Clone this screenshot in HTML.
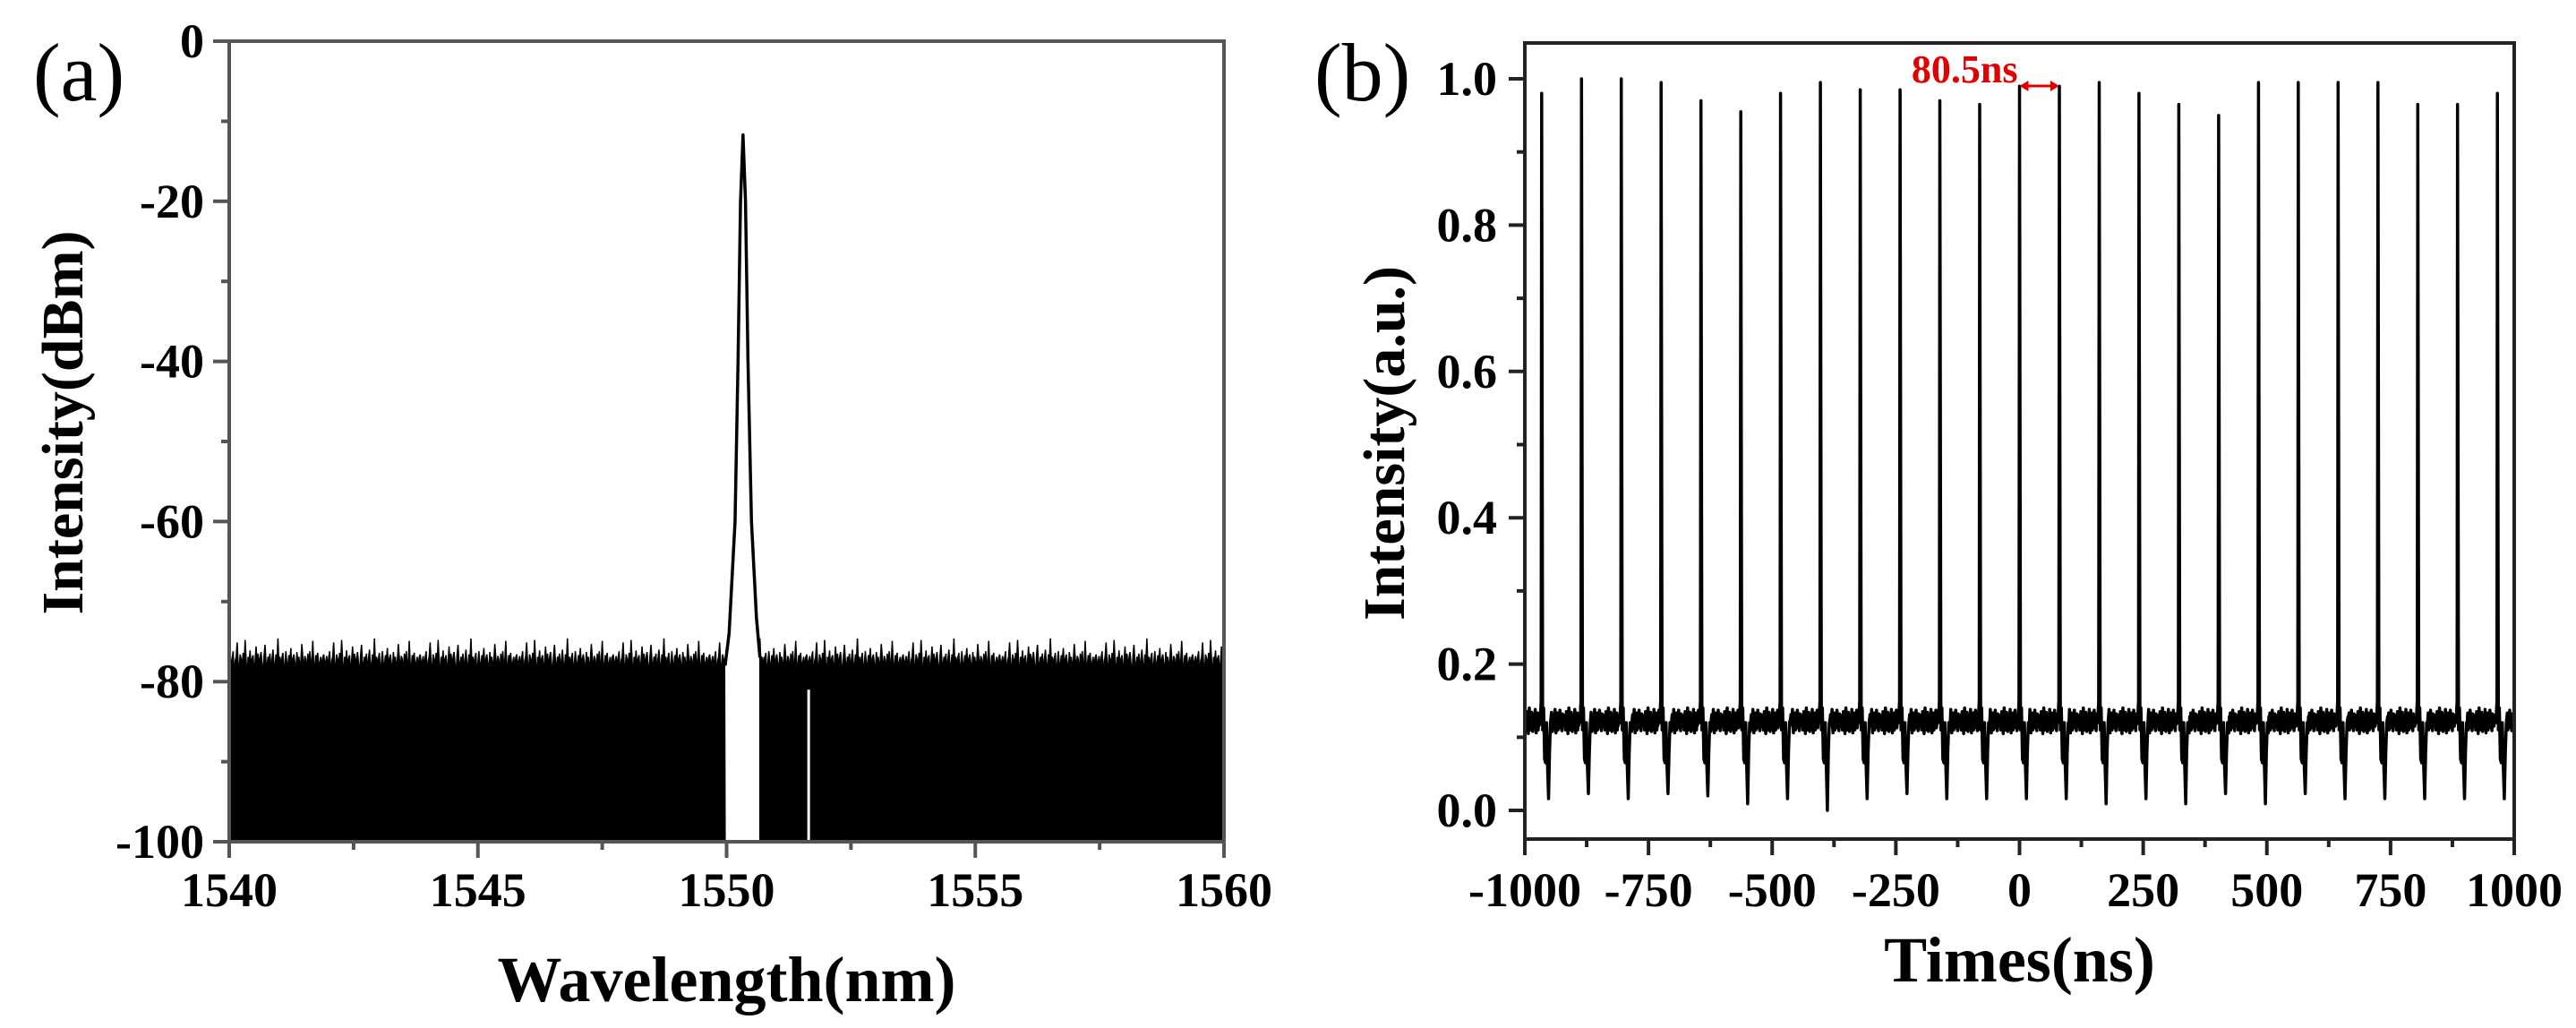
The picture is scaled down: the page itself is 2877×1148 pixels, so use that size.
<!DOCTYPE html>
<html><head><meta charset="utf-8"><style>
html,body{margin:0;padding:0;background:#fff;}
svg{display:block;font-family:"Liberation Serif",serif;}
</style></head><body>
<svg id="fig" width="2877" height="1148" viewBox="0 0 2877 1148" xmlns="http://www.w3.org/2000/svg">
<g id="pa"></g>
<g id="pb"></g>
</svg>
<script>
// ---------- Panel A data ----------
const aXTicks = [1540, 1545, 1550, 1555, 1560];
const aYTicks = [0, -20, -40, -60, -80, -100];
const aNoise = [-77.5,-76.8,-78.2,-77.0,-76.2,-79.8,-77.4,-76.9,-75.1,-77.8,-78.5,-76.6,-77.2,-78.0,-76.4,-77.9,-74.8,-77.3,-79.6,-76.9,
-77.6,-76.1,-78.3,-77.1,-76.7,-79.0,-77.5,-75.6,-77.8,-76.5,-78.1,-77.0,-76.3,-77.7,-79.4,-76.8,-75.4,-77.6,-78.2,-76.9,
-77.3,-76.5,-78.7,-77.2,-76.0,-77.9,-78.3,-76.6,-77.4,-74.6,-77.8,-76.9,-78.1,-77.0,-76.4,-79.5,-77.6,-76.2,-77.9,-78.0,
-76.7,-77.3,-75.8,-78.4,-77.1,-76.6,-77.7,-78.9,-76.3,-77.5,-76.9,-78.2,-77.4,-75.3,-77.0,-78.6,-76.8,-77.2,-79.1,-76.5,
-77.7,-76.2,-78.0,-77.5,-74.9,-77.9,-78.3,-76.7,-77.1,-76.4,-78.5,-77.6,-76.9,-78.2,-77.0,-76.6,-77.8];
const aPeakWl = [1549.97,1550.05,1550.17,1550.23,1550.28,1550.33,1550.38,1550.43,1550.50,1550.60,1550.67];
const aPeakDb = [-78,-74,-60,-40,-20,-11.7,-20,-40,-60,-72,-77];
const aGap = [1549.97, 1550.67];
const aLineWl = 1551.65, aLineTop = -81;

// ---------- Panel B data ----------
const bXTicks = [-1000,-750,-500,-250,0,250,500,750,1000];
const bXLabels = ["-1000","-750","-500","-250","0","250","500","750","1000"];
const bYTicks = [0.0,0.2,0.4,0.6,0.8,1.0];
const bYLabels = ["0.0","0.2","0.4","0.6","0.8","1.0"];
const bPeriod = 80.5;
const bPulseIdx = [-12,-11,-10,-9,-8,-7,-6,-5,-4,-3,-2,-1,0,1,2,3,4,5,6,7,8,9,10,11,12];
const bPeaks = [0.98,1.0,1.0,0.995,0.97,0.955,0.98,0.995,0.985,0.985,0.97,0.965,0.99,0.99,0.995,0.98,0.965,0.95,0.995,0.995,0.995,0.995,0.965,0.965,0.98];
const bDips = [0.016,0.023,0.016,0.023,0.02,0.009,0.016,0.0,0.016,0.023,0.016,0.016,0.016,0.016,0.009,0.016,0.009,0.023,0.009,0.023,0.016,0.016,0.016,0.016,0.016];
const bTplDt = [-3,-1,0,2,4,6,8,10,12,14,16,18];
const bTplVal = [0.12,0.15,null,0.11,0.14,0.07,0.065,0.12,0.06,"dip",0.08,0.12];
const bNoise = [0.12,0.13,0.11,0.125,0.135,0.115,0.12,0.105,0.13,0.14,0.118,0.11,0.127,0.122,0.134,0.112,0.108,0.125,0.131,0.117,
0.12,0.138,0.114,0.106,0.128,0.121,0.133,0.11,0.124,0.116,0.129,0.137,0.113,0.119,0.126,0.109,0.132,0.118,0.123,0.115];

const NS = "http://www.w3.org/2000/svg";
function mk(parent, tag, attrs, text) {
  const el = document.createElementNS(NS, tag);
  for (const k in attrs) el.setAttribute(k, attrs[k]);
  if (text !== undefined) el.textContent = text;
  parent.appendChild(el);
  return el;
}

// ---------- Panel A ----------
(function(){
  const g = document.getElementById('pa');
  const L=256, R=1367, T=46, B=940;
  const x = w => L + (w-1540)/20*(R-L);
  const y = v => T + (-v)/100*(B-T);
  function seg(w0, w1, name){
    let pts = [[x(w0), y(-100)]];
    for (let w = w0; w <= w1+1e-9; w += 0.02) {
      const idx = Math.round((w-1540)/0.02);
      pts.push([x(w), y(aNoise[idx % aNoise.length])]);
    }
    pts.push([x(w1), y(-100)]);
    const p = mk(g, 'polygon', {points: pts.map(p=>p.join(',')).join(' '), fill:'#000', stroke:'#000', 'stroke-width':1.5});
    
    
  }
  seg(1540, aGap[0], 'noise-floor-left');
  seg(aGap[1], 1560, 'noise-floor-right');
  const pk = mk(g, 'polyline', {points: aPeakWl.map((w,i)=>x(w)+','+y(aPeakDb[i])).join(' '), fill:'none', stroke:'#000', 'stroke-width':3.5, 'stroke-linejoin':'round'});
  
  
  const wl = mk(g, 'line', {x1:x(aLineWl), x2:x(aLineWl), y1:y(aLineTop), y2:y(-100)-2, stroke:'#fff', 'stroke-width':3});
  
  
  const fr = mk(g, 'rect', {x:L, y:T, width:R-L, height:B-T, fill:'none', stroke:'#555', 'stroke-width':4});
  
  
  for (let v=0; v>=-100; v-=10) {
    const major = v%20===0;
    const t = mk(g,'line',{x1:L-(major?18:9), x2:L, y1:y(v), y2:y(v), stroke:'#555','stroke-width':4});
    
    
  }
  aYTicks.forEach(v=>{
    const t = mk(g,'text',{x:L-28, y:y(v)+18, 'text-anchor':'end', 'font-size':54, 'font-weight':'bold'}, String(v));
    
    
  });
  for (let w=1540; w<=1560; w+=2.5) {
    const major = w%5===0;
    const t = mk(g,'line',{x1:x(w), x2:x(w), y1:B, y2:B+(major?18:9), stroke:'#555','stroke-width':4});
    
    
  }
  aXTicks.forEach(w=>{
    const t = mk(g,'text',{x:x(w), y:1012, 'text-anchor':'middle', 'font-size':54, 'font-weight':'bold'}, String(w));
    
    
  });
  const xt = mk(g,'text',{x:(L+R)/2, y:1118, 'text-anchor':'middle', 'font-size':72, 'font-weight':'bold'}, 'Wavelength(nm)');
  
  
  const yt = mk(g,'text',{x:0, y:0, transform:'translate(92,472) rotate(-90)', 'text-anchor':'middle', 'font-size':66, 'font-weight':'bold'}, 'Intensity(dBm)');
  
  
  const lb = mk(g,'text',{x:37, y:112, 'font-size':92}, '(a)');
  
  
})();

// ---------- Panel B ----------
(function(){
  const g = document.getElementById('pb');
  const L=1703, R=2808, T=48, B=937;
  const x = t => L + (t+1000)/2000*(R-L);
  const y = v => 905 - v*(905-88);
  const pts = [];
  const pulseT = bPulseIdx.map(k=>k*bPeriod);
  for (let t=-1000, i=0; t<=1000; t+=1, i++) {
    let nearest=-1, best=1e9;
    pulseT.forEach((pt,j)=>{ const d=t-pt; if (d>=-4 && d<=19 && Math.abs(d)<best){best=Math.abs(d); nearest=j;} });
    if (nearest>=0) continue;
    pts.push([t, bNoise[i % bNoise.length]]);
  }
  pulseT.forEach((pt,j)=>{
    bTplDt.forEach((dt,m)=>{
      let v = bTplVal[m];
      if (v===null) v = bPeaks[j];
      else if (v==="dip") v = bDips[j];
      const tt = pt+dt;
      if (tt>=-1000 && tt<=1000) pts.push([tt, v]);
    });
  });
  pts.sort((a,b)=>a[0]-b[0]);
  const ln = mk(g,'polyline',{points: pts.map(p=>x(p[0]).toFixed(1)+','+y(p[1]).toFixed(1)).join(' '), fill:'none', stroke:'#000','stroke-width':3.5,'stroke-linejoin':'round'});
  
  
  const fr = mk(g, 'rect', {x:L, y:T, width:R-L, height:B-T, fill:'none', stroke:'#222', 'stroke-width':4});
  
  
  for (let k=0; k<=10; k++) {
    const v = k/10, major = k%2===0;
    const t = mk(g,'line',{x1:L-(major?18:9), x2:L, y1:y(v), y2:y(v), stroke:'#222','stroke-width':4});
    
    
  }
  bYTicks.forEach((v,i)=>{
    const t = mk(g,'text',{x:1672, y:y(v)+18, 'text-anchor':'end', 'font-size':54, 'font-weight':'bold'}, bYLabels[i]);
    
    
  });
  for (let t0=-1000; t0<=1000; t0+=125) {
    const major = t0%250===0;
    const t = mk(g,'line',{x1:x(t0), x2:x(t0), y1:B, y2:B+(major?18:9), stroke:'#222','stroke-width':4});
    
    
  }
  bXTicks.forEach((v,i)=>{
    const t = mk(g,'text',{x:x(v), y:1012, 'text-anchor':'middle', 'font-size':54, 'font-weight':'bold'}, bXLabels[i]);
    
    
  });
  const xt = mk(g,'text',{x:(L+R)/2, y:1096, 'text-anchor':'middle', 'font-size':72, 'font-weight':'bold'}, 'Times(ns)');
  
  
  const yt = mk(g,'text',{x:0, y:0, transform:'translate(1568,495) rotate(-90)', 'text-anchor':'middle', 'font-size':66, 'font-weight':'bold'}, 'Intensity(a.u.)');
  
  
  const lb = mk(g,'text',{x:1468, y:112, 'font-size':92}, '(b)');
  
  
  const ax0 = x(0), ax1 = x(bPeriod), ay = 96;
  const an = mk(g,'text',{x:ax0-2, y:92, 'text-anchor':'end', 'font-size':44, 'font-weight':'bold', fill:'#e00000'}, '80.5ns');
  
  
  const al = mk(g,'line',{x1:ax0+8, x2:ax1-8, y1:ay, y2:ay, stroke:'#e00000','stroke-width':3});
  
  
  const h1 = mk(g,'polygon',{points:`${ax0},${ay} ${ax0+10},${ay-6} ${ax0+10},${ay+6}`, fill:'#e00000'});
  
  
  const h2 = mk(g,'polygon',{points:`${ax1},${ay} ${ax1-10},${ay-6} ${ax1-10},${ay+6}`, fill:'#e00000'});
  
  
})();
</script>
</body></html>
